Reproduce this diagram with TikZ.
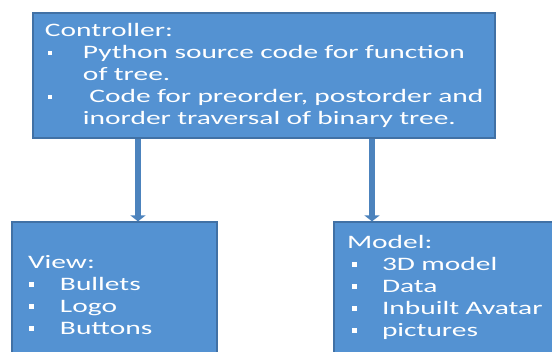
\documentclass[tikz,border=0pt]{standalone}
\usepackage{fontspec}
\newfontfamily\boxfont[FakeStretch=1.55]{Carlito}
\usetikzlibrary{arrows.meta}
\definecolor{boxblue}{RGB}{84,146,210}
\definecolor{boxline}{RGB}{65,113,165}
\newcommand{\sqbul}{\rule[3.5pt]{4.5pt}{4.5pt}}
\begin{document}
\begin{tikzpicture}
  [x=1pt,y=-1pt,
   every node/.style={rectangle,fill=boxblue,draw=boxline,line width=1.2pt,
     text=white,align=left,inner ysep=0pt,
     font=\boxfont\fontsize{19}{22}\selectfont},
   conn/.style={draw=boxblue!90!black,line width=6pt,
     -{Triangle[width=15pt,length=6pt]}}]
  \useasboundingbox (0,0) rectangle (552,352);
  \clip (0,0) rectangle (552,352);
  \node (ctrl) [inner xsep=12pt,text width=438pt,minimum height=125pt] at (264,75.5)
    {Controller:\\
     \makebox[38pt][l]{\hspace{3pt}\sqbul}\mbox{Python source code for function}\\
     \hspace*{38pt}of tree.\\
     \makebox[38pt][l]{\hspace{3pt}\sqbul}\mbox{\ Code for preorder, postorder and}\\
     \hspace*{38pt}\mbox{inorder traversal of binary tree.}};
  \node (view) [inner xsep=16pt,text width=173pt,minimum height=146pt] at (114.5,295)
    {View:\\
     \makebox[32pt][l]{\hspace{1pt}\sqbul}Bullets\\
     \makebox[32pt][l]{\hspace{1pt}\sqbul}Logo\\
     \makebox[32pt][l]{\hspace{1pt}\sqbul}Buttons};
  \node (model) [inner xsep=13pt,text width=196pt,minimum height=146pt] at (445,295)
    {Model:\\
     \makebox[35pt][l]{\hspace{5pt}\sqbul}3D model\\
     \makebox[35pt][l]{\hspace{5pt}\sqbul}Data\\
     \makebox[35pt][l]{\hspace{5pt}\sqbul}\mbox{Inbuilt Avatar}\\
     \makebox[35pt][l]{\hspace{5pt}\sqbul}pictures\rule[-19pt]{0pt}{19pt}};
  \draw[conn] (ctrl.south -| 138,0) -- (view.north -| 138,0);
  \draw[conn] (ctrl.south -| 372,0) -- (model.north -| 372,0);
\end{tikzpicture}
\end{document}
